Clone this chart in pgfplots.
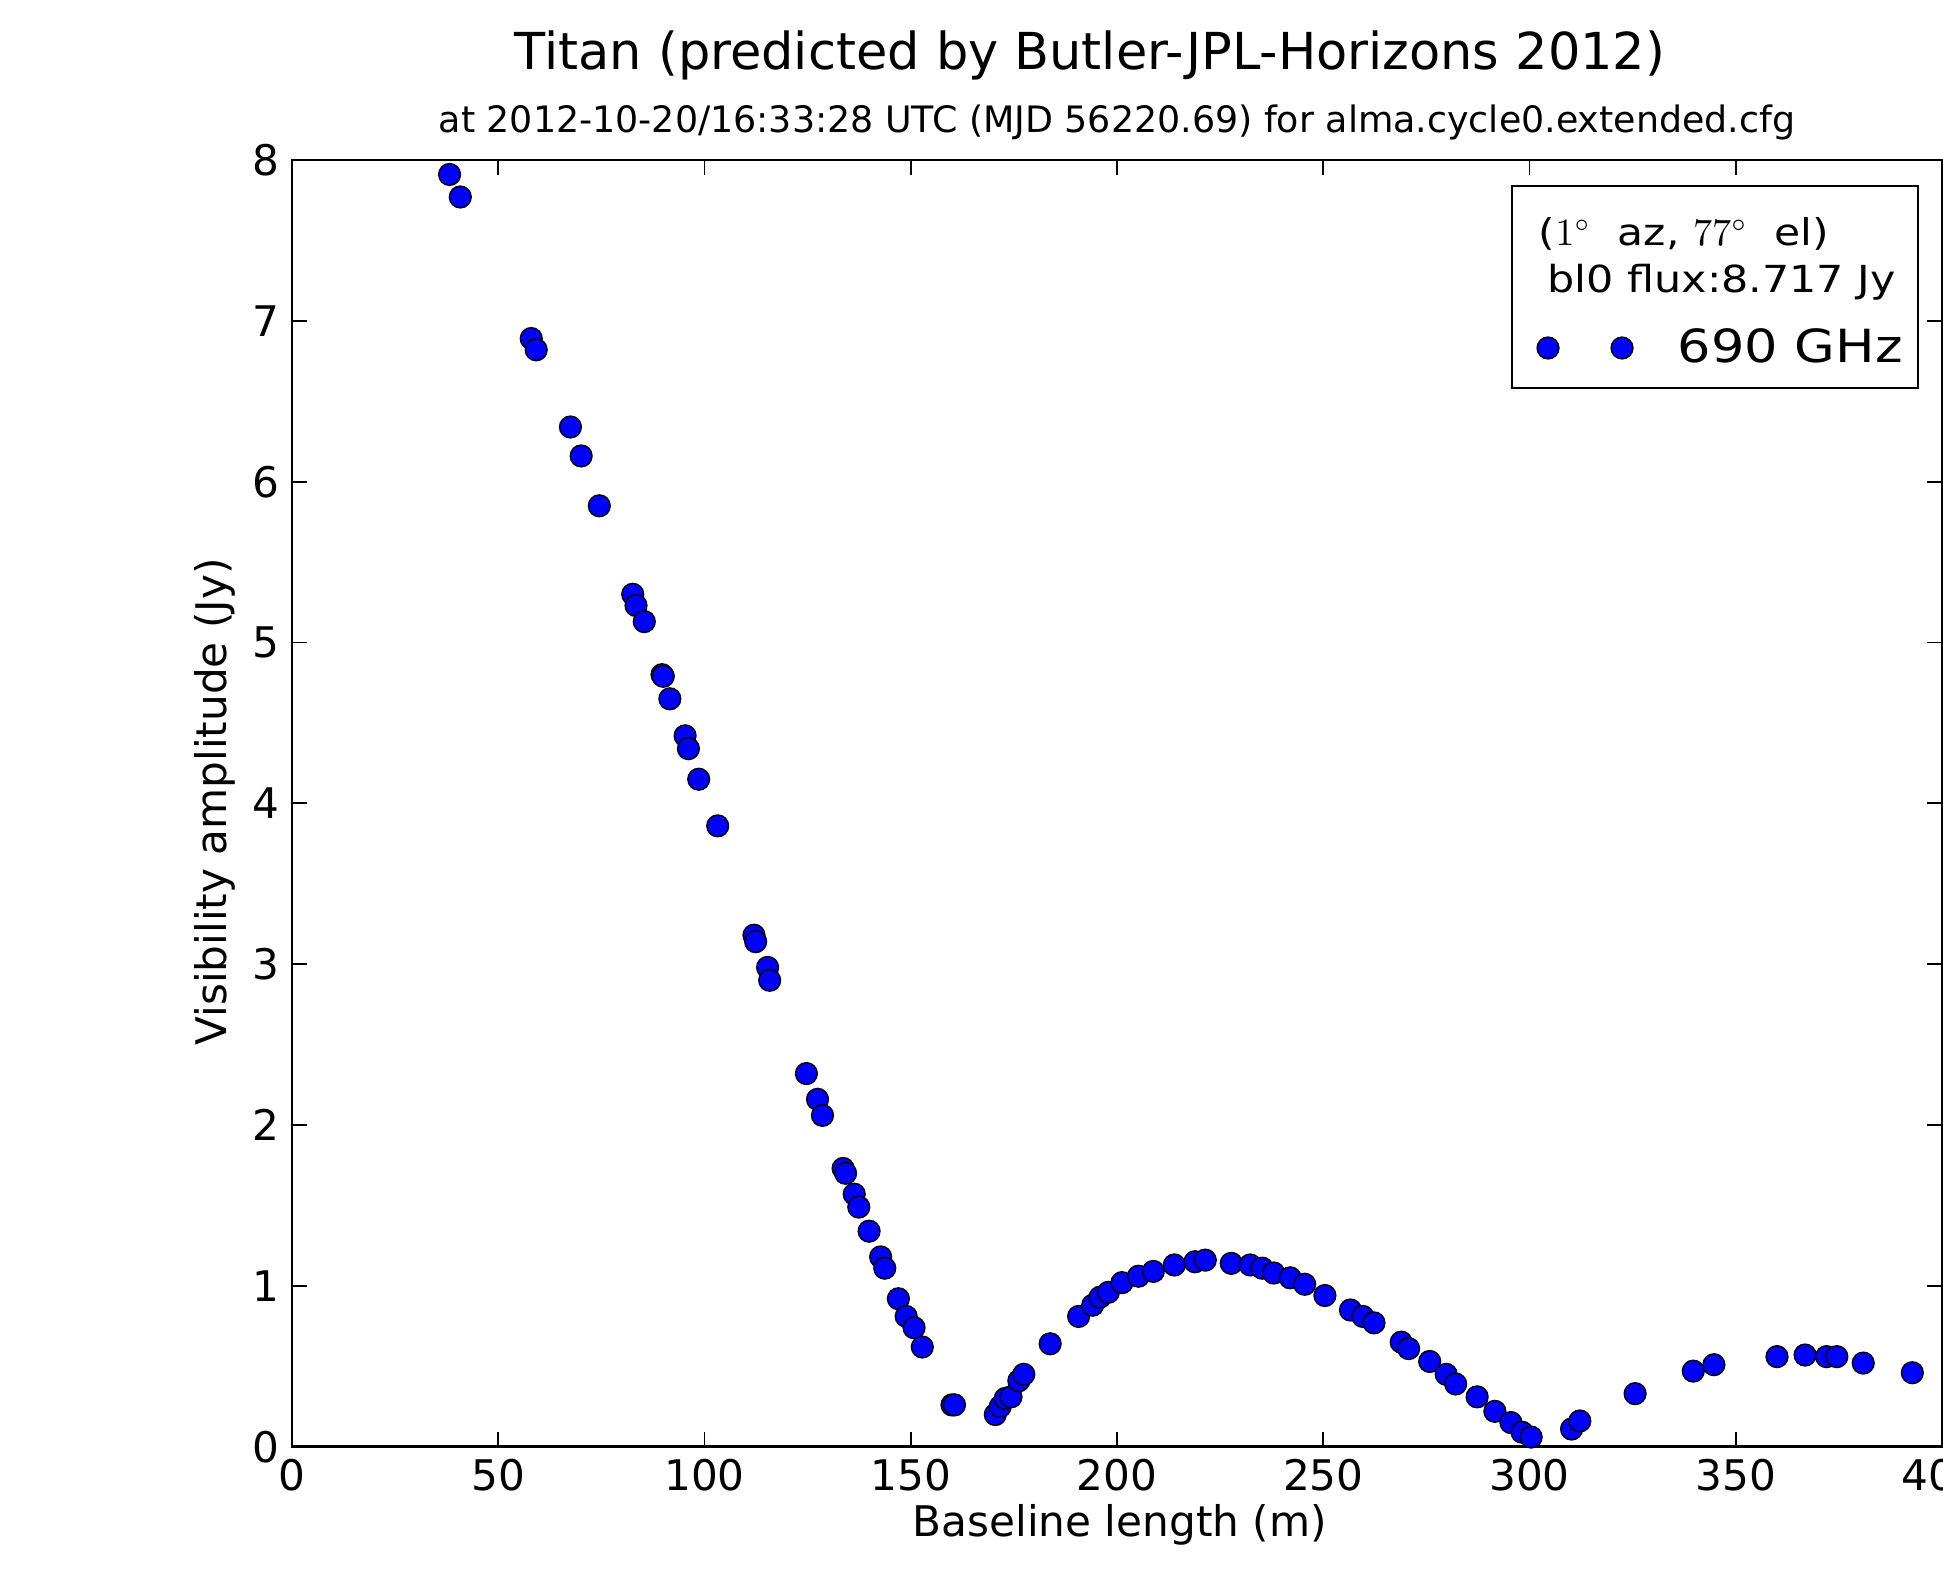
\documentclass[border=0pt]{standalone}
\usepackage{pgfplots}
\pgfplotsset{compat=1.18}
\usepackage{fontspec}
\setmainfont{DejaVu Sans}
\newfontfamily\legfont[FakeStretch=1.15]{DejaVu Sans}

\pgfplotstableread{
x y
38.2 7.91
40.8 7.77
58.0 6.89
59.2 6.82
67.5 6.34
70.1 6.16
74.5 5.85
82.6 5.30
83.4 5.23
85.4 5.13
89.7 4.80
90.0 4.79
91.6 4.65
95.3 4.42
96.1 4.34
98.6 4.15
103.2 3.86
112.0 3.18
112.4 3.14
115.3 2.98
115.8 2.90
124.7 2.32
127.4 2.16
128.6 2.06
133.6 1.73
134.2 1.70
136.3 1.57
137.4 1.49
139.9 1.34
142.7 1.18
143.7 1.11
147.0 0.92
148.9 0.81
150.8 0.74
152.8 0.62
160.0 0.26
160.6 0.26
170.5 0.20
171.7 0.25
172.9 0.30
174.3 0.31
176.2 0.41
177.4 0.45
183.8 0.64
190.7 0.81
194.1 0.88
195.9 0.93
197.9 0.96
201.2 1.02
205.2 1.06
208.8 1.09
213.9 1.13
218.9 1.15
221.4 1.16
227.7 1.14
232.3 1.13
235.2 1.11
238.0 1.08
242.0 1.05
245.5 1.01
250.4 0.94
256.6 0.85
259.6 0.81
262.3 0.77
268.9 0.65
270.7 0.61
275.8 0.53
279.8 0.45
282.1 0.39
287.3 0.31
291.6 0.22
295.5 0.15
298.2 0.09
300.4 0.06
310.2 0.11
312.2 0.16
325.6 0.33
339.7 0.47
344.7 0.51
360.0 0.56
366.8 0.57
372.0 0.56
374.5 0.56
380.9 0.52
392.8 0.46
}\vis

\begin{document}
\begin{tikzpicture}
\begin{axis}[
  at={(0,0)}, anchor=south west,
  scale only axis, width=16.5cm, height=12.867cm,
  xmin=0, xmax=400, ymin=0, ymax=8,
  xtick={0,50,...,400}, ytick={0,1,...,8},
  clip mode=individual,
  tick align=inside,
  major tick length=0.15cm,
  every tick/.style={black, line width=0.5pt},
  axis line style={line width=0.8pt},
  ticklabel style={font=\fontsize{12}{14}\selectfont},
  /pgf/number format/assume math mode=true,
  xlabel={Baseline length (m)},
  ylabel={Visibility amplitude (Jy)},
  xlabel style={at={(axis description cs:0.5016,-0.0694)}, anchor=base, font=\fontsize{12}{14}\selectfont},
  ylabel style={at={(axis description cs:-0.0394,0.501)}, anchor=base, font=\fontsize{12}{14}\selectfont},
  legend style={at={(axis description cs:0.7542,0.8539)}, anchor=west, draw=none, fill=none,
    inner sep=0pt, nodes={inner sep=0pt}, column sep=0.45cm,
    font=\legfont\fontsize{13}{15}\selectfont},
  legend cell align=left,
]
\addplot[only marks, mark=*, mark size=3.1pt,
  mark options={fill=blue, draw=black, line width=0.4pt},
  legend image code/.code={\draw[only marks, mark=*, mark size=3.1pt,
     mark options={fill=blue, draw=black, line width=0.4pt}]
     plot coordinates {(0cm,0cm) (0.74cm,0cm)};}
] table[x=x, y=y] {\vis};
\addlegendentry{690 GHz}

\draw[line width=0.75pt, fill=white] (axis description cs:0.7394,0.9798) rectangle (axis description cs:0.9855,0.8228);
\node[anchor=base west, inner sep=0pt, font=\legfont\fontsize{10.5}{12}\selectfont]
  at (axis description cs:0.7552,0.9339) {($1^{\circ}$\ \ az, $77^{\circ}$\ \ el)};
\node[anchor=base west, inner sep=0pt, font=\legfont\fontsize{10.6}{12}\selectfont]
  at (axis description cs:0.7606,0.8974) {bl0 flux:8.717 Jy};

\node[anchor=base, inner sep=0pt, font=\fontsize{14.5}{17}\selectfont]
  at (axis description cs:0.4836,1.070) {Titan (predicted by Butler-JPL-Horizons 2012)};
\node[anchor=base, inner sep=0pt, font=\fontsize{10.35}{12}\selectfont]
  at (axis description cs:0.5,1.021) {at 2012-10-20/16:33:28 UTC (MJD 56220.69) for alma.cycle0.extended.cfg};
\end{axis}
\pgfresetboundingbox
\useasboundingbox (-2.92cm,-1.223cm) rectangle (16.51cm,14.467cm);
\end{tikzpicture}
\end{document}
